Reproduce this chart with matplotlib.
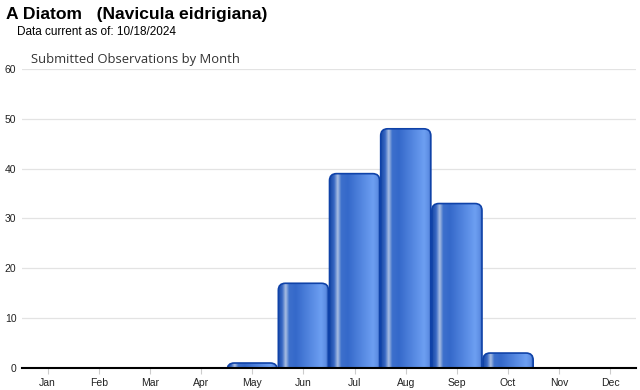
import numpy as np
import matplotlib
matplotlib.use("Agg")
import matplotlib.pyplot as plt
from matplotlib.patches import FancyBboxPatch
from matplotlib.colors import LinearSegmentedColormap

months = ["Jan", "Feb", "Mar", "Apr", "May", "Jun", "Jul", "Aug", "Sep", "Oct", "Nov", "Dec"]
counts = [0, 0, 0, 0, 1, 17, 39, 48, 33, 3, 0, 0]
yticks = [0, 10, 20, 30, 40, 50, 60]

fig = plt.figure(figsize=(6.4, 3.9), dpi=100)
ax = fig.add_axes([22/640, 1-368/390, 614/640, 299/390])
ax.set_xlim(-0.5, 11.5)
ax.set_ylim(0, 60)

cmap = LinearSegmentedColormap.from_list("bar", [
    (0.0, "#1a4aa6"), (0.08, "#3868c4"), (0.15, "#aabfe2"), (0.22, "#3d70cc"),
    (0.35, "#3569ca"), (0.85, "#6d9ff2"), (0.94, "#5d8de3"), (1.0, "#1c4cab")])
grad = np.linspace(0, 1, 256).reshape(1, -1)

x_per_px = 12 / 614
y_per_px = 60 / 299
aspect = y_per_px / x_per_px

w = 0.98
for i, v in enumerate(counts):
    if v <= 0:
        continue
    x0 = i - w/2
    patch = FancyBboxPatch((x0, -3), w, v + 3,
                           boxstyle=f"round,pad=0,rounding_size={7*x_per_px}",
                           mutation_aspect=aspect,
                           facecolor="none", edgecolor="#0f42a8", lw=1.2, zorder=3)
    ax.add_patch(patch)
    im = ax.imshow(grad, cmap=cmap, extent=(x0, x0 + w, -3, v), aspect="auto",
                   zorder=2, interpolation="bilinear")
    im.set_clip_path(patch)

ax.set_xlim(-0.5, 11.5)
ax.set_ylim(0, 60)
ax.set_yticks(yticks)
ax.set_xticks(range(12))
ax.set_xticklabels(months)
ax.grid(axis="y", color="#e3e3e3", lw=0.9, zorder=0)
ax.set_axisbelow(True)
for s in ["top", "right", "left"]:
    ax.spines[s].set_visible(False)
ax.spines["bottom"].set_color("black")
ax.spines["bottom"].set_linewidth(1.5)
ax.spines["bottom"].set_zorder(5)
ax.tick_params(axis="y", length=0, labelsize=7.5, pad=4, labelcolor="#222222")
ax.tick_params(axis="x", length=4, color="#cccccc", labelsize=7.5, pad=3, labelcolor="#222222")
for t in ax.get_yticklabels() + ax.get_xticklabels():
    t.set_fontfamily("Liberation Sans")

fig.text(6/640, 1-15/390, "A Diatom   (Navicula eidrigiana)", fontsize=12.6, fontweight="bold",
         family="Liberation Sans", va="center", ha="left")
fig.text(17/640, 1-32/390, "Data current as of: 10/18/2024", fontsize=8.5,
         family="Liberation Sans", va="center", ha="left")
fig.text(31/640, 1-59/390, "Submitted Observations by Month", fontsize=9.4,
         family="Open Sans", color="#333333", va="center", ha="left")

fig.savefig("out.png", dpi=100)
